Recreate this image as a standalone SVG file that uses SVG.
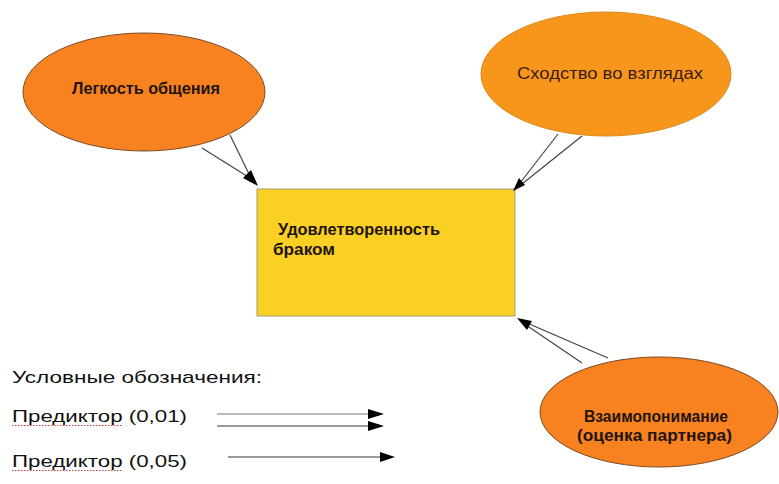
<svg xmlns="http://www.w3.org/2000/svg" width="779" height="484" viewBox="0 0 779 484">
<style>
.bg{fill:#ffffff}
.e1{fill:#F7821F;stroke:#7a4a24;stroke-width:1}
.e2{fill:#F8961C;stroke:#d98a1e;stroke-width:1}
.box{fill:#FBD024;stroke:#a89a70;stroke-width:1}
.tb{font-family:"Liberation Sans",Arial,sans-serif;font-weight:bold;font-size:17px;fill:#1f1410}
.tr{font-family:"Liberation Sans",Arial,sans-serif;font-size:17px;fill:#3a1c10}
.tl{font-family:"Liberation Sans",Arial,sans-serif;font-size:17px;fill:#111111}
.ln{stroke:#444444;stroke-width:1.2;fill:none}
.lg{stroke:#777777;fill:none}
.ah{fill:#000000}
.sp{stroke:#d04040;stroke-width:1;stroke-dasharray:1.5 1.5;fill:none}
</style>
<rect class="bg" x="0" y="0" width="779" height="484"/>
<g id="node-legkost">
<ellipse class="e1" cx="144" cy="92" rx="121" ry="59"/>
<text class="tb" x="72" y="94" textLength="148" lengthAdjust="spacingAndGlyphs">Легкость общения</text>
</g>
<g id="node-shodstvo">
<ellipse class="e2" cx="606" cy="74" rx="125" ry="62"/>
<text class="tr" x="517" y="79" textLength="186" lengthAdjust="spacingAndGlyphs">Сходство во взглядах</text>
</g>
<g id="node-udovl">
<rect class="box" x="257" y="189" width="258" height="127"/>
<text class="tb" x="278" y="235" textLength="162" lengthAdjust="spacingAndGlyphs">Удовлетворенность</text>
<text class="tb" x="273" y="255" textLength="62" lengthAdjust="spacingAndGlyphs">браком</text>
</g>
<g id="node-vzaimo">
<ellipse class="e1" cx="659" cy="412" rx="119" ry="55"/>
<text class="tb" x="584" y="422" textLength="144" lengthAdjust="spacingAndGlyphs">Взаимопонимание</text>
<text class="tb" x="577" y="441" textLength="155" lengthAdjust="spacingAndGlyphs">(оценка партнера)</text>
</g>
<g id="connectors">
<line class="ln" x1="202" y1="148" x2="250" y2="178"/>
<line class="ln" x1="230" y1="135" x2="250" y2="176"/>
<polygon class="ah" points="258,186 251,170 243,178"/>
<line class="ln" x1="558" y1="134" x2="520" y2="183"/>
<line class="ln" x1="582" y1="136" x2="522" y2="184"/>
<polygon class="ah" points="513,191 525,185 519,178"/>
<line class="ln" x1="582" y1="363" x2="526" y2="325"/>
<line class="ln" x1="608" y1="358" x2="527" y2="323"/>
<polygon class="ah" points="517,318 532,321 527,330"/>
</g>
<g id="legend">
<text class="tl" x="12" y="383" textLength="250" lengthAdjust="spacingAndGlyphs">Условные обозначения:</text>
<text class="tl" x="12" y="422" textLength="175" lengthAdjust="spacingAndGlyphs">Предиктор (0,01)</text>
<path class="sp" d="M12,425.5 L122,425.5"/>
<text class="tl" x="12" y="467" textLength="175" lengthAdjust="spacingAndGlyphs">Предиктор (0,05)</text>
<path class="sp" d="M12,470.5 L122,470.5"/>
<line class="lg" stroke-width="1" x1="217" y1="414" x2="372" y2="414"/>
<polygon class="ah" points="384,414 368,409 368,419"/>
<line class="lg" stroke-width="1.6" x1="217" y1="426" x2="372" y2="426"/>
<polygon class="ah" points="384,426 368,421 368,431"/>
<line class="lg" stroke-width="1.4" x1="228" y1="457" x2="384" y2="457"/>
<polygon class="ah" points="395,457 380,452 380,462"/>
</g>
</svg>
